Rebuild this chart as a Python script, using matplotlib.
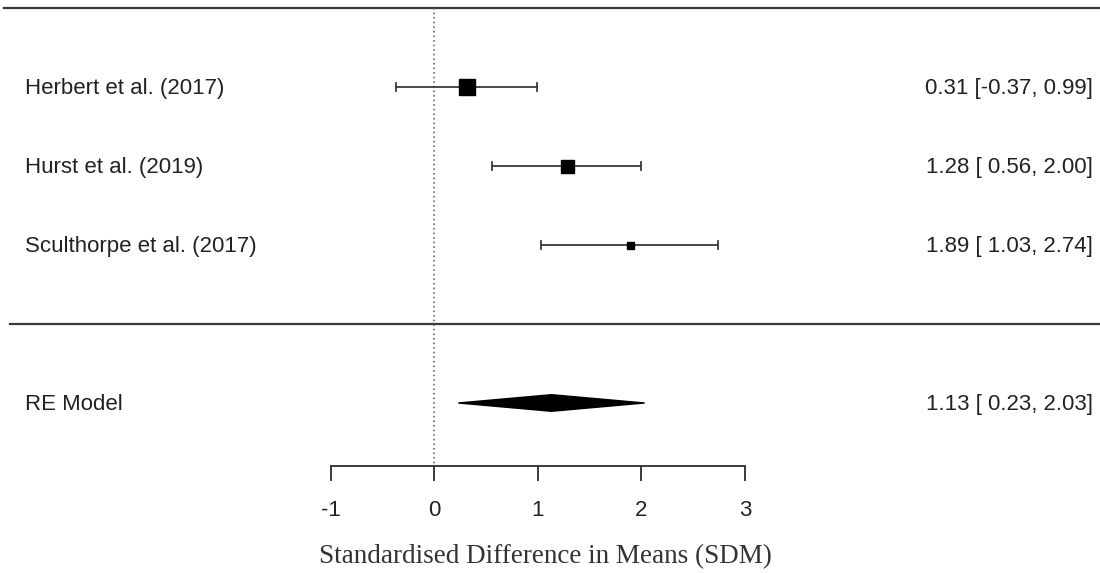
import numpy as np
import matplotlib.pyplot as plt
from matplotlib.patches import Polygon

studies = ["Herbert et al. (2017)", "Hurst et al. (2019)", "Sculthorpe et al. (2017)"]
est = [0.31, 1.28, 1.89]
lo = [-0.37, 0.56, 1.03]
hi = [0.99, 2.00, 2.74]
marker_px = [16, 13, 7]   # square size reflects study weight

re_est, re_lo, re_hi = 1.13, 0.23, 2.03
xticks = [-1, 0, 1, 2, 3]

LINE = "#3a3a3a"
TXT = "#222222"
FS = 16

fig = plt.figure(figsize=(11, 5.73), dpi=100)
ax = fig.add_axes([0, 0, 1, 1])
ax.set_xlim(-4.198, 6.430)
ax.set_ylim(-3.152, 4.101)
ax.axis("off")

rows = np.arange(len(studies), 0, -1)
re_row = -1
axis_y = -1.8

# separators and reference line
ax.axhline(4, xmin=0.004, xmax=1, color=LINE, lw=1.6)
ax.axhline(0, xmin=0.009, xmax=1, color=LINE, lw=1.6)
ax.plot([0, 0], [4, axis_y], color="#555555", lw=1.1, ls=(0, (1, 2)))

# studies
for y, name, e, l, h, s in zip(rows, studies, est, lo, hi, marker_px):
    ax.plot([l, h], [y, y], color=LINE, lw=1.3)
    ax.plot([l, l], [y - 0.05, y + 0.05], color=LINE, lw=1.3)
    ax.plot([h, h], [y - 0.05, y + 0.05], color=LINE, lw=1.3)
    ax.plot(e, y, marker="s", ms=s * 0.72, color="black", mec="black")
    ax.text(0.0227, y - 0.02, name, transform=ax.get_yaxis_transform(), ha="left",
            va="center", fontsize=FS, color=TXT, family="Liberation Sans")
    ax.text(0.9936, y - 0.02, f"{e:.2f} [{l:5.2f}, {h:.2f}]",
            transform=ax.get_yaxis_transform(), ha="right", va="center",
            fontsize=FS, color=TXT, family="Liberation Sans")

# summary diamond
ax.add_patch(Polygon([[re_lo, re_row], [re_est, re_row + 0.105],
                      [re_hi, re_row], [re_est, re_row - 0.105]],
                     closed=True, color="black"))
ax.text(0.0227, re_row - 0.02, "RE Model", transform=ax.get_yaxis_transform(),
        ha="left", va="center", fontsize=FS, color=TXT, family="Liberation Sans")
ax.text(0.9936, re_row - 0.02, f"{re_est:.2f} [ {re_lo:.2f}, {re_hi:.2f}]",
        transform=ax.get_yaxis_transform(), ha="right", va="center",
        fontsize=FS, color=TXT, family="Liberation Sans")

# x axis drawn by hand (metafor style)
ax.plot([xticks[0], xticks[-1]], [axis_y, axis_y], color=LINE, lw=1.4)
for t in xticks:
    ax.plot([t, t], [axis_y, axis_y - 0.18], color=LINE, lw=1.4)
    ax.text(t, axis_y - 0.56, f"{t}", ha="center", va="center", fontsize=FS,
            color=TXT, family="Liberation Sans")
ax.text(1.07, axis_y - 1.15,
        "Standardised Difference in Means (SDM)", ha="center", va="center",
        fontsize=19.5, color="#333333", family="Liberation Serif")

fig.savefig("out.png", dpi=100)
